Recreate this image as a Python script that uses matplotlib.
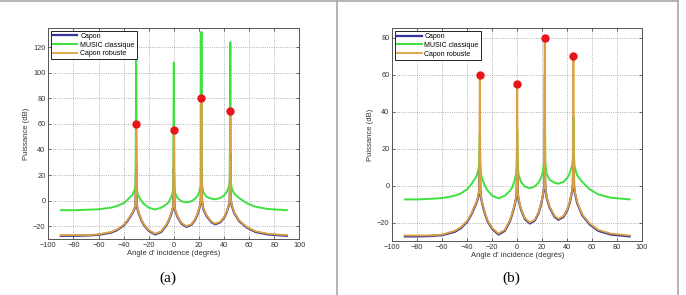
import numpy as np
import matplotlib
matplotlib.use('Agg')
import matplotlib.pyplot as plt
from matplotlib.lines import Line2D

plt.rcParams['font.family'] = ['Liberation Sans', 'DejaVu Sans']

# angles (degrees) of the smooth part of the spectra
angles = [-90, -80, -70, -60, -50, -45, -40, -37, -35, -33, -32, -31, -30.5,
          -29.5, -29, -28, -26, -24, -20, -15, -10, -6, -4, -2, -1, -0.5,
          0.5, 1, 3, 6, 10, 14, 17, 19, 20.5, 21.5,
          22.5, 23.5, 26, 30, 33, 37, 40, 42, 44, 44.5,
          45.5, 46, 48, 52, 58, 65, 75, 90]

music_base = [-7.5, -7.5, -7.2, -6.8, -5.5, -4.2, -2, 0.5, 2.5, 4.5, 6.5, 9, 12,
              12, 6, 3.5, 0, -2.5, -5.5, -7, -5.5, -3, -1, 3, 6, 11,
              11, 6, 2, -0.5, -1.5, -0.5, 1.5, 4, 7.5, 12.5,
              12.5, 6.5, 3, 1.5, 1, 2, 4, 6.5, 11, 15,
              15, 10, 5.5, 2, -2, -4.8, -6.6, -7.5]

capon_base = [-27.5, -27.5, -27.3, -26.8, -25, -23, -19.5, -16, -13, -10, -8, -5.5, -3,
              -3, -6.5, -10, -15, -19, -23.5, -26.5, -24.5, -19.5, -15.5, -10.5, -7, -4.5,
              -4.5, -7.5, -13, -18, -20.5, -19, -15, -10.5, -5.5, -1,
              -1, -6.5, -12, -17, -18.5, -17, -13.5, -9.5, -3, 0,
              0, -3.5, -9.5, -16, -21, -24.5, -26.5, -27.5]

robust_base = [-27, -27, -27, -26.5, -24.5, -22.5, -19, -15.5, -12.5, -9.5, -7.5, -5, -2.5,
               -2.5, -6, -9.5, -14.5, -18.5, -23, -26, -24, -19, -15, -10, -6.5, -4,
               -4, -7, -12.5, -17.5, -20, -18.5, -14.5, -10, -5, -0.5,
               -0.5, -6, -11.5, -16.5, -18, -16.5, -13, -9, -2.5, 0.5,
               0.5, -3, -9, -15.5, -20.5, -24, -26, -27]

# source directions and spike heights
peak_ang = [-30, 0, 22, 45]
music_pk_a = [110, 108, 132, 124]
capon_pk_a = [28, 25, 20, 37]
robust_pk_a = [60, 55, 80, 70]
music_pk_b = [28, 30, 60, 37]
capon_pk_b = [12, 12, 12, 16]
robust_pk_b = [60, 55, 80, 70]

# true powers (red dots)
true_ang = [-30, 0, 22, 45]
true_pow = [60, 55, 80, 70]


def with_peaks(base, peaks):
    x = np.array(angles + peak_ang, dtype=float)
    y = np.array(base + peaks, dtype=float)
    o = np.argsort(x, kind='stable')
    return x[o], y[o]


c_blue = '#34349c'
c_green = '#3ee03e'
c_orange = '#dca040'

fig = plt.figure(figsize=(6.86, 2.95), dpi=100)

# table cell borders
fig.add_artist(Line2D([0, 678 / 686], [1 - 1 / 295, 1 - 1 / 295], color='#a8a8a8', lw=1.2))
fig.add_artist(Line2D([337 / 686, 337 / 686], [0, 1], color='#a8a8a8', lw=1.2))
fig.add_artist(Line2D([678 / 686, 678 / 686], [0, 1], color='#a8a8a8', lw=1.2))

panels = [
    ([0.0704, 0.190, 0.366, 0.715], music_pk_a, capon_pk_a, robust_pk_a, 135, np.arange(-20, 121, 20), '(a)', 168),
    ([0.572, 0.183, 0.364, 0.721], music_pk_b, capon_pk_b, robust_pk_b, 85, np.arange(-20, 81, 20), '(b)', 511),
]

for rect, mpk, cpk, rpk, ytop, yt, lab, labx in panels:
    ax = fig.add_axes(rect)
    x, y = with_peaks(capon_base, cpk)
    ax.plot(x, y, color=c_blue, lw=1.6, label='Capon')
    x, y = with_peaks(music_base, mpk)
    ax.plot(x, y, color=c_green, lw=1.4, label='MUSIC classique')
    x, y = with_peaks(robust_base, rpk)
    ax.plot(x, y, color=c_orange, lw=1.3, label='Capon robuste')
    ax.plot(true_ang, true_pow, 'o', color='#e8141c', ms=5, mec='#e8141c')

    ax.set_xlim(-100, 100)
    ax.set_ylim(-30, ytop)
    ax.set_xticks(np.arange(-100, 101, 20))
    ax.set_yticks(yt)
    ax.grid(True, linestyle=':', color='#9a9a9a', lw=0.6)
    ax.tick_params(direction='in', top=True, right=True, length=2.5, width=0.5,
                   labelsize=5.3, colors='#333333', pad=2)
    for s in ax.spines.values():
        s.set_color('#555555')
        s.set_linewidth(0.7)
    ax.set_xlabel("Angle d' incidence (degrés)", fontsize=5.5, color='#333333', labelpad=1)
    ax.set_ylabel('Puissance (dB)', fontsize=5.5, color='#333333', labelpad=2)
    leg = ax.legend(loc='upper left', fontsize=5, handlelength=3.5, frameon=True,
                    fancybox=False, edgecolor='black', framealpha=1,
                    borderaxespad=0.4, borderpad=0.3, labelspacing=0.25, handletextpad=0.4)
    leg.get_frame().set_linewidth(0.6)
    fig.text(labx / 686, 1 - 278 / 295, lab, ha='center', va='center',
             fontsize=11, family='Liberation Serif')

fig.savefig('out.png', dpi=100)
